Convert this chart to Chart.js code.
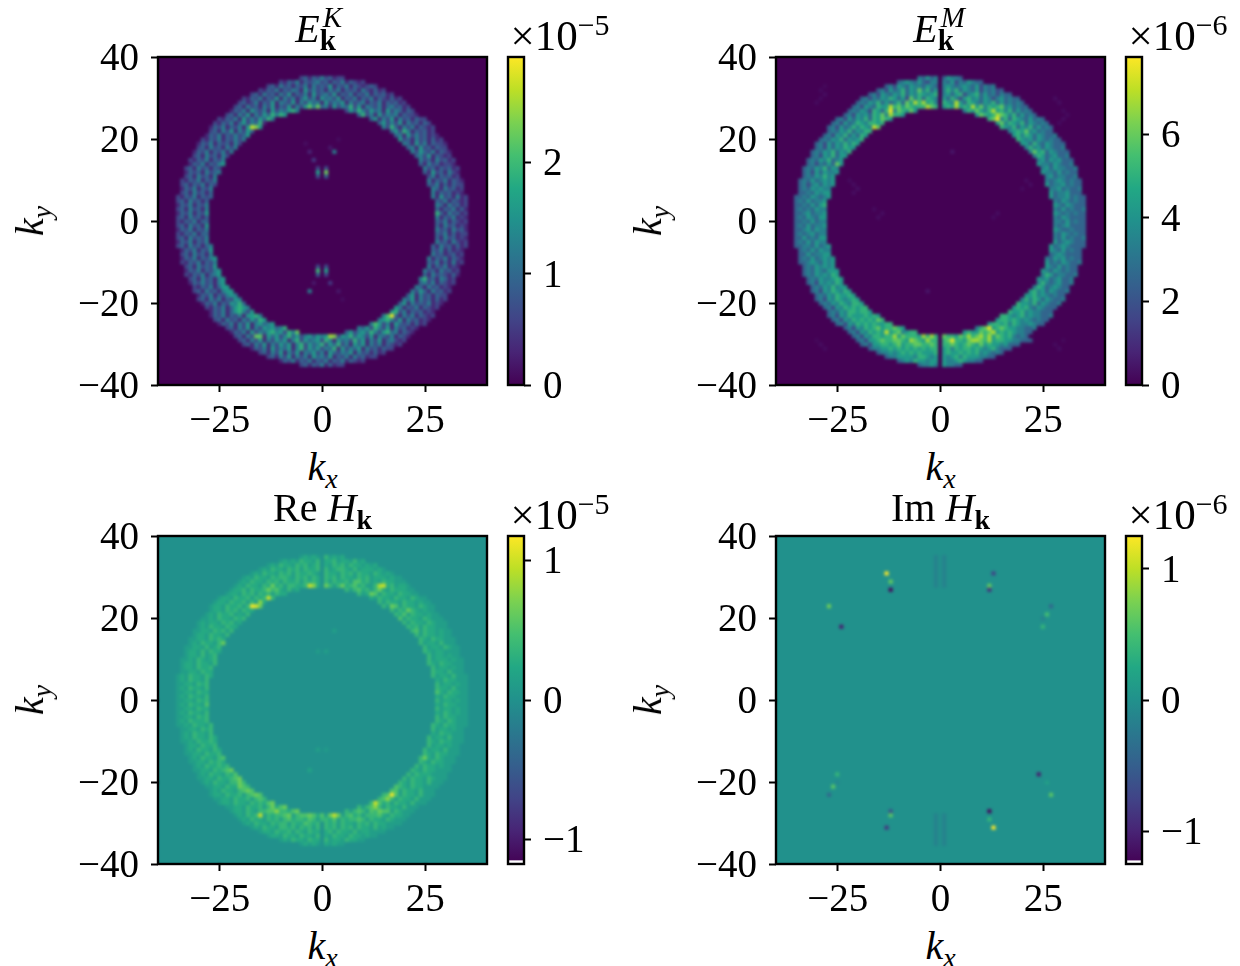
<!DOCTYPE html>
<html>
<head>
<meta charset="utf-8">
<title>Spectra</title>
<script src="https://cdn.jsdelivr.net/npm/chart.js@4"></script>
<style>
  body { margin:0; background:#fff; }
  #page { position:relative; width:1240px; height:966px; overflow:hidden; font-family:"Liberation Serif",serif; color:#000; }
  canvas { position:absolute; }
  .lbl { position:absolute; transform:translate(-50%,-50%); font-size:40px; line-height:1; white-space:nowrap; }
  .lbl.rot { transform:translate(-50%,-50%) rotate(-90deg); }
  .sub { font-size:28px; position:relative; top:8px; }
  .sup { font-size:30px; position:relative; top:-15px; }
  .stack { display:inline-block; position:relative; width:30px; height:1px; }
  .stack .a { position:absolute; left:3px; bottom:10px; font-size:29px; font-style:italic; }
  .stack .b { position:absolute; left:0; top:-15px; font-size:29px; font-weight:bold; }
  .off { font-size:43px; }
</style>
</head>
<body>
<div id="page"></div>
<script>
// axis ticks
const xTicks = [-25, 0, 25];
const yTicks = [-40, -20, 0, 20, 40];

// how far the ring reaches along kx in each row, ky = 35 .. -35
const ringOuter = [5,10,13,15,17,19,20,21,22,23,25,26,27,27,28,29,30,30,31,31,32,32,33,33,33,34,34,34,34,35,35,35,35,35,35,35,
  35,35,35,35,35,35,34,34,34,34,33,33,33,32,32,31,31,30,30,29,28,27,27,26,25,23,22,21,20,19,17,15,13,10,5];

// ring levels, one string per row, left part and right part
const ekRows = [
"23132423122","213241323423132413212","231423132414232513241321232","2132413243152423142413231421312",
"23142314251324152342513241324132312","213241325142413524153425132413241321312","23124132514325142534152435142341324132312",
"2314231425132514253473415243625143241342312","13241532415243564 25364253415243132","231425142536465 362415243413221",
"21324152425364 35142514231322","2132413524361 3524251423132","1324132415385 4263142413212","23142514253 35264132312",
"13241324235 34152423121","21324132424 52314231312","13241323142 43152413221","2314231424 3415231322","1324132414 4253241321",
"231423142 342513212","213241324 423142312","132413245 314231221","231423132 423132312","132314234 315231421","23142314 24132312",
"213241324 413241321","231324132 324131322","13241324 43142312","23142313 41323121","213241323 415231412","23142313 32413212",
"13241324 43142312","23142314 31324131","13241325 63142312","23142313 41324121","21324133 32413212",
"23142315 31423121","13241324 42314231","21324133 32413122","23142324 31423121","13241324 42314212","231423134 314231312",
"13241325 32413121","23142314 42312312","132413245 413241321","213241324 324131412","23142325 41324121","132413245 423142312",
"213241345 314232131","231423145 462314312","132423145 342413212","213241355 431423121","2314231455 4253142312","1324132454 3514231322",
"23142413254 43514231312","13241325463 35142324121","21324135654 54132413212","13241356425 56241323121","1324132415564 4593142413212",
"2314231425365 4564251423121","13241425145345 47524153231312","231425142545346 435264251423121","13241524356452647 35245364256341321",
"2314274153524635245354584254635425143241321","23142514253514625345264153426351425134212","231425142535146253462536241535142413212",
"13241524351462535243615243514231322","2314251425143524153243514231312","231425142415342513241423122","132413241324132413212","23132413122"
];
const emRows = [
"43534035443","345435324404352435433","342543544354304543454352434","3425346354746350464635435243423",
"34254354635465456045356245635342433","342435465352746365405364256453542453433","34354635346375468564065485365435463534343",
"3425436558675765668760565856585746567453433","34354265369476575 46575468564635343","342545365748665 576568764635343",
"34253546365765 67946365435343","3425346546656 5746546354343","3425346465497 6546354635343","34354635466 45657453433",
"34254635365 56465354334","34354635456 65453543433","34253546465 55364354333","3425354655 4645354334","3435463546 4756354333",
"342546355 465345334","343546345 453545333","342435375 544354334","343546354 453544334","342535445 544353433","34354645 45344334",
"343534545 434543433","342453545 534453433","34354544 44534334","33435455 53445333","334354345 534453433","34353445 43543433",
"33435356 54354333","34343544 43534334","33453445 54343433","34354355 43543333","33435344 44353433",
"34353445 43453333","33453544 54334333","34345344 43543433","33534355 43534334","34353544 53454333","334435345 534543333",
"34353544 54353433","33534455 34543333","343534545 435453433","334543545 534354334","34354545 54353433","343543555 543543433",
"343545465 465344334","343544565 545345334","342545465 464345334","343546455 465345433","3425465465 5645354334","3435465565 5564543433",
"34254654565 46465354334","34354654665 65546354334","34254656566 56564354333","34354665665 65564544333","3425465556565 6654564544334",
"3425465656576 5665654543433","34254656565566 56656465445433","342546567566765 467856765544334","34254656585674566 56557678565654433",
"3425466566857666586860766576867868576564343","3425567667765876586606796657887685665544333","342556656756677667606676567657565545333",
"34455656565656566056465665654564333","3445456565655560565565656454343","344555546654505456465554433","345465545505445654433","34454054433"
];
const reRows = [
"12121031212","121213221302231221312","121322132312302132313221212","1213221323132230312332131222121",
"12132213231322321032213231322132121","121322132332132313203231322132312221211","12132213231322313232031322314423121322111",
"1213221325231332237620531352342311374231221","12231322353421312 31342313521322211","122132313231322 312541322132211",
"12213223132373 21322132213211","1221322313162 3132213221211","1221322313485 3154132213211","12213231322 31325321211",
"12132231213 32413221211","11213221323 41322132111","12122132312 31322132111","1213221322 3231322111","1122132313 3413221211",
"122132213 313221211","112213232 321322111","121322135 312213111","112213123 312213211","122131322 321221111","12213123 31221211",
"112132123 312221211","122132213 321322111","12213223 31221211","11221322 32213111","121322132 312213111","12132213 21322111",
"11221323 31221211","12132213 32213111","11221322 42132211","12132213 21322111","11221323 31221211",
"12132214 21322111","11221322 31221211","12132213 21321211","11221323 31322111","12132223 32132111","112132213 321322111",
"11221323 31221211","12132213 21322111","121322132 312213111","112132232 321322111","12213223 31221211","121322132 312213111",
"112213223 321322111","121322134 352132111","112213232 321322111","121322323 313221211","1122132345 3213221111","1213221324 3132221111",
"11221322345 31322132111","12132213353 32132213111","11221322543 43213221111","12132213454 44132213111","1221322313454 3484132213111",
"1122132231343 3463132213111","12213221323245 37423132213111","112213223135245 313463132213111","12213213344633245 31343143544132111",
"1213237132334513445424153513423133342132211","12132213231342332431332413233431322132111","121322132331322432303231322132313221111",
"12132213323132313032313231322131211","1221322313213220231322131221111","122132213221302132213221211","121322132203122132211","12121021211"
];

// isolated spots, in the colour bar's units; these also carry the hottest ring cells
const ekSpotX = [-1,1,-1,1,-1,1,3,-2,-3,-4,2,4,-1,1,-1,1,-1,1,-3,-2,2,4,5,-17,-16,17,16,3,-3,-15,13];
const ekSpotY = [12,12,11,11,13,13,17,15,17,19,18,20,-12,-12,-11,-11,-13,-13,-17,-15,-15,-17,-19,23,23,-23,-23,-28,28,-28,-25];
const ekSpotV = [1.7,2.3,0.7,0.9,0.6,0.7,1.3,0.5,0.3,0.12,0.2,0.1,2.0,1.7,0.7,0.7,0.8,0.6,1.3,0.2,0.5,0.2,0.1,2.7,2.4,2.85,2.1,2.4,2.2,2.2,2.1];
const emSpotX = [3,-3,-29,-28,-29,-30,-28,28,29,30,31,29,30,-21,-20,-21,-22,-15,-14,-16,14,13,21,22,20,-29,-28,29,28,-30,30,
  -12,-12,-16,13,8,4,-6,-3,-13,12,13];
const emSpotY = [17,-17,32,31,30,29,33,30,29,27,26,24,25,9,8,7,10,1,2,3,2,1,10,9,8,-30,-31,-31,-30,-29,-29,
  27,28,23,27,28,29,29,28,-27,-26,-27];
const emSpotV = [0.5,0.5,0.25,0.3,0.25,0.25,0.2,0.3,0.3,0.25,0.25,0.25,0.3,0.3,0.35,0.3,0.25,0.3,0.3,0.25,0.3,0.25,0.3,0.3,0.25,0.3,0.25,0.3,0.25,0.2,0.2,
  7.7,7.0,7.2,7.0,7.0,7.0,7.0,7.0,7.2,7.6,7.0];
const reSpotX = [3,-1,1,-1,1,-3,-17,17,-15,3,-3,15,-13,13];
const reSpotY = [17,12,12,-12,-12,-17,23,-23,-28,-28,28,28,25,-25];
const reSpotV = [0.14,0.12,0.14,0.14,0.1,0.18,1.15,1.15,1.0,1.0,1.0,1.0,1.0,1.0];
const imSpotX = [-13,-12,-12,13,12,12,-27,-24,27,26,25,25,24,27,26,12,12,13,-12,-12,-13,-25,-26,-27,-25,
  -1,-1,-1,-1,-1,-1,-1,-1,1,1,1,1,1,1,1,1,-1,-1,-1,-1,-1,-1,-1,-1,1,1,1,1,1,1,1,1];
const imSpotY = [31,29,27,31,28,27,23,18,23,21,18,20,-18,-23,-20,-27,-29,-31,-27,-28,-31,-18,-21,-23,-20,
  35,34,33,32,31,30,29,28,35,34,33,32,31,30,29,28,-35,-34,-33,-32,-31,-30,-29,-28,-35,-34,-33,-32,-31,-30,-29,-28];
const imSpotV = [1.25,0.65,-1.2,-0.75,0.65,-0.9,0.7,-1.05,-0.4,0.5,0.4,-0.15,-1.05,0.6,0.15,-1.2,0.4,1.25,-0.6,0.6,-0.85,0.4,0.6,-0.4,-0.1,
  -0.15,-0.15,-0.15,-0.15,-0.15,-0.15,-0.15,-0.15,-0.15,-0.15,-0.15,-0.15,-0.15,-0.15,-0.15,-0.15,
  -0.15,-0.15,-0.15,-0.15,-0.15,-0.15,-0.15,-0.15,-0.15,-0.15,-0.15,-0.15,-0.15,-0.15,-0.15,-0.15];

// viridis
const VIRIDIS = ["#440154","#482475","#414487","#355f8d","#2a788e","#21918c","#22a884","#44bf70","#7ad151","#bddf26","#fde725"];
const VIR_RGB = VIRIDIS.map(h => [1,3,5].map(i => parseInt(h.slice(i,i+2),16)));
function viridis(t){
  t = Math.min(1, Math.max(0, t)) * 10;
  const i = Math.min(9, Math.floor(t)), f = t - i;
  const a = VIR_RGB[i], b = VIR_RGB[i+1];
  return `rgb(${a.map((c,n) => Math.round(c + (b[n]-c)*f)).join(",")})`;
}

const FONT = { family:'"Liberation Serif", serif', size:39 };
const CELL_RADIUS = 3.6;   // rect point is sqrt(2)*r wide, a bit over one cell so no seams show

const fmtTick = v => String(v).replace("-", "\u2212");
const fixTicks = list => s => { s.ticks = list.map(value => ({ value })); };
const noPadY = w => s => { s.width = w; s.paddingTop = 0; s.paddingBottom = 0; };
const noPadX = h => s => { s.height = h; s.paddingLeft = 0; s.paddingRight = 0; };

// smooth the cells a bit, the picture was drawn with image interpolation
const smoothCells = {
  id:"smoothCells",
  afterDatasetsDraw(chart){
    const { ctx, chartArea:a } = chart;
    ctx.save();
    ctx.beginPath();
    ctx.rect(a.left, a.top, a.right-a.left, a.bottom-a.top);
    ctx.clip();
    ctx.filter = "blur(1.5px)";
    ctx.drawImage(chart.canvas, 0, 0, chart.width, chart.height);
    ctx.restore();
  }
};
const spine = {
  id:"spine",
  afterDraw(chart){
    const { ctx, chartArea:a } = chart;
    ctx.save();
    ctx.strokeStyle = "#000";
    ctx.lineWidth = 2.4;
    ctx.strokeRect(a.left, a.top, a.right-a.left, a.bottom-a.top);
    ctx.restore();
  }
};
// Liberation digits sit a little high on "middle", push y labels onto their ticks
const nudgeLabels = {
  id:"nudgeLabels",
  beforeDraw(chart){
    chart.scales.y.getLabelItems(chart.chartArea).forEach(item => { item.options.translation[1] += 2.5; });
  }
};

function decodeCells(rows, unit, spotX, spotY, spotV){
  const grid = new Map();
  rows.forEach((row, i) => {
    const ky = 35 - i, w = ringOuter[i];
    const parts = row.split(" ");
    [...parts[0]].forEach((d, n) => grid.set(`${-w+n},${ky}`, +d * unit));
    if (parts[1]) [...parts[1]].forEach((d, n) => grid.set(`${w-parts[1].length+1+n},${ky}`, +d * unit));
  });
  spotX.forEach((x, i) => grid.set(`${x},${spotY[i]}`, spotV[i]));
  const cells = [];
  for (let ky = -40; ky <= 40; ky++){
    for (let kx = -40; kx <= 40; kx++){
      cells.push({ x:kx, y:ky, v:grid.get(`${kx},${ky}`) || 0 });
    }
  }
  return cells;
}

function addCanvas(left, top, width, height){
  const c = document.createElement("canvas");
  c.width = width; c.height = height;
  c.style.left = left+"px"; c.style.top = top+"px";
  c.style.width = width+"px"; c.style.height = height+"px";
  document.getElementById("page").appendChild(c);
  return c;
}

function addLabel(cx, cy, html, cls){
  const d = document.createElement("div");
  d.className = "lbl" + (cls ? " "+cls : "");
  d.style.left = cx+"px"; d.style.top = cy+"px";
  d.innerHTML = html;
  document.getElementById("page").appendChild(d);
}

function drawHeat(px, py, cells, vmin, vmax){
  const canvas = addCanvas(px-138, py-25, 472, 403);
  new Chart(canvas, {
    type:"scatter",
    data:{ datasets:[{
      data:cells,
      pointStyle:"rect",
      pointRadius:CELL_RADIUS,
      pointBorderWidth:0,
      pointBackgroundColor:cells.map(c => viridis((c.v-vmin)/(vmax-vmin)))
    }]},
    options:{
      responsive:false, animation:false, events:[],
      layout:{ padding:{ top:25, right:5, left:0, bottom:0 } },
      plugins:{ legend:{display:false}, tooltip:{enabled:false} },
      scales:{
        x:{ type:"linear", min:-40, max:40,
            afterBuildTicks:fixTicks(xTicks), afterFit:noPadX(50),
            border:{display:false},
            grid:{ drawOnChartArea:false, tickLength:7, tickWidth:2, tickColor:"#000" },
            ticks:{ color:"#000", font:FONT, padding:6, maxRotation:0, autoSkip:false, callback:fmtTick } },
        y:{ type:"linear", min:-40, max:40,
            afterBuildTicks:fixTicks(yTicks), afterFit:noPadY(138),
            border:{display:false},
            grid:{ drawOnChartArea:false, tickLength:7, tickWidth:2, tickColor:"#000" },
            ticks:{ color:"#000", font:FONT, padding:12, autoSkip:false, callback:fmtTick } }
      }
    },
    plugins:[nudgeLabels, smoothCells, spine]
  });
}

function drawBar(cx, py, vmin, vmax, ticks, sliver){
  const canvas = addCanvas(cx-18, py-25, 114, 373);
  const datasets = [{
    order:1,
    data:[[vmin, vmax]],
    backgroundColor:ctx => {
      const a = ctx.chart.chartArea;
      if (!a) return VIRIDIS[0];
      const g = ctx.chart.ctx.createLinearGradient(0, a.bottom, 0, a.top);
      VIRIDIS.forEach((c, i) => g.addColorStop(i/10, c));
      return g;
    }
  }];
  if (sliver) datasets.push({ order:0, data:[sliver], backgroundColor:"#fff" });
  new Chart(canvas, {
    type:"bar",
    data:{ labels:[""], datasets },
    options:{
      responsive:false, animation:false, events:[],
      layout:{ padding:{ top:25, left:18, bottom:20, right:0 } },
      datasets:{ bar:{ grouped:false, barPercentage:1, categoryPercentage:1, borderWidth:0 } },
      plugins:{ legend:{display:false}, tooltip:{enabled:false} },
      scales:{
        x:{ display:false },
        y:{ position:"right", min:vmin, max:vmax,
            afterBuildTicks:fixTicks(ticks), afterFit:noPadY(80),
            border:{display:false},
            grid:{ drawOnChartArea:false, tickLength:7, tickWidth:2, tickColor:"#000" },
            ticks:{ color:"#000", font:FONT, padding:12, autoSkip:false, callback:fmtTick } }
      }
    },
    plugins:[nudgeLabels, spine]
  });
}

const boldK = '<b>k</b>';
const panels = [
  { px:158, py:57,  rows:ekRows, unit:0.32,  sx:ekSpotX, sy:ekSpotY, sv:ekSpotV, vmin:0, vmax:2.95,
    bar:[0,1,2], sliver:null, exp:"\u22125",
    title:'<i>E</i><span class="stack"><span class="a">K</span><span class="b">k</span></span>' },
  { px:776, py:57,  rows:emRows, unit:0.85,  sx:emSpotX, sy:emSpotY, sv:emSpotV, vmin:0, vmax:7.85,
    bar:[0,2,4,6], sliver:null, exp:"\u22126",
    title:'<i>E</i><span class="stack"><span class="a">M</span><span class="b">k</span></span>' },
  { px:158, py:536, rows:reRows, unit:0.13,  sx:reSpotX, sy:reSpotY, sv:reSpotV, vmin:-1.176, vmax:1.176,
    bar:[-1,0,1], sliver:[-1.166,-1.152], exp:"\u22125",
    title:'Re <i>H</i><span class="sub">'+boldK+'</span>' },
  { px:776, py:536, rows:[],     unit:1,     sx:imSpotX, sy:imSpotY, sv:imSpotV, vmin:-1.25, vmax:1.25,
    bar:[-1,0,1], sliver:[-1.24,-1.225], exp:"\u22126",
    title:'Im <i>H</i><span class="sub">'+boldK+'</span>' }
];

panels.forEach(p => {
  const cells = decodeCells(p.rows, p.unit, p.sx, p.sy, p.sv);
  drawHeat(p.px, p.py, cells, p.vmin, p.vmax);
  drawBar(p.px+350, p.py, p.vmin, p.vmax, p.bar, p.sliver);
  const cx = p.px + 164.5;
  addLabel(cx, p.py-28, p.title);
  addLabel(cx, p.py+410, '<i>k</i><span class="sub"><i>x</i></span>');
  addLabel(p.px-128, p.py+164, '<i>k</i><span class="sub"><i>y</i></span>', "rot");
  addLabel(p.px+402, p.py-22, '<span class="off">\u00d710</span><span class="sup">'+p.exp+'</span>');
});
</script>
</body>
</html>
